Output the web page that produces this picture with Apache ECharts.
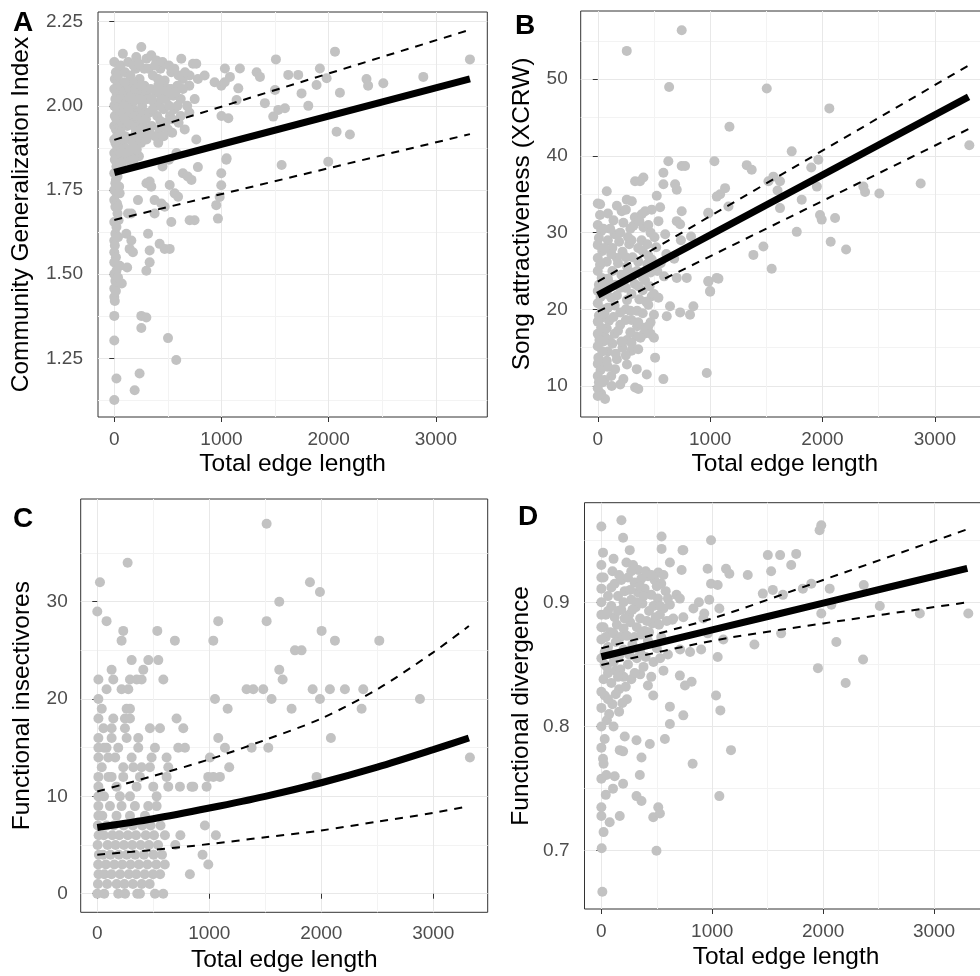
<!DOCTYPE html>
<html><head><meta charset="utf-8">
<script src="https://cdn.jsdelivr.net/npm/echarts@6/dist/echarts.min.js"></script>
<style>html,body{margin:0;padding:0;background:#fff}#c{width:980px;height:976px}</style>
</head><body><div id="c"></div>
<script>
// ---------- shared ticks ----------
const xTicks = [0, 1000, 2000, 3000];
const xMinor = [500, 1500, 2500];
const xTitle = 'Total edge length';

// ---------- Panel A ----------
const aTitle = 'Community Generalization Index';
const aYTicks = [1.25, 1.5, 1.75, 2.0, 2.25];
const aYMinor = [1.125, 1.375, 1.625, 1.875, 2.125];
const aPoints = [
 [0,2.13],[15,2.10],[5,2.08],[30,2.07],[0,2.05],[20,2.04],[10,2.02],[40,2.01],[0,2.00],[25,1.99],[5,1.97],[35,1.96],[0,1.94],[15,1.93],[30,1.92],[0,1.90],[10,1.89],[25,1.88],[0,1.86],[40,1.85],[5,1.84],[20,1.82],[0,1.80],[30,1.79],[10,1.77],[0,1.75],[20,1.74],[45,1.76],[0,1.72],[10,1.70],[30,1.68],[0,1.655],[10,1.62],[0,1.60],[5,1.585],[0,1.565],[15,1.55],[0,1.535],[45,1.525],[0,1.50],[10,1.48],[0,1.457],[30,1.472],[0,1.432],[5,1.42],[0,1.376],[0,1.303],[20,1.19],[0,1.126],
 [50,2.11],[35,2.09],[55,2.06],[45,2.03],[25,2.02],[50,1.99],[20,1.96],[55,1.94],[45,1.91],[20,1.905],[50,1.88],[35,1.87],[55,1.83],[40,1.81],[15,1.78],[50,1.74],[25,1.71],[40,1.66],[20,1.64],[35,1.61],[20,1.51],[35,1.49],[15,1.45],
 [80,2.155],[60,2.12],[100,2.10],[150,2.09],[200,2.11],[205,2.145],[252,2.175],[236,2.08],[120,2.06],[170,2.07],[90,2.04],[140,2.05],[190,2.03],[240,2.04],[280,2.06],[60,2.02],[110,2.01],[160,2.00],[210,2.02],[260,2.00],[80,1.98],[130,1.97],[180,1.99],[230,1.98],[290,1.98],[70,1.95],[120,1.94],[170,1.96],[220,1.95],[270,1.94],[60,1.92],[100,1.91],[150,1.90],[200,1.92],[250,1.89],[90,1.88],[140,1.87],[190,1.86],[60,1.86],[110,1.84],[70,1.82],[160,1.83],[230,1.85],
 [130,2.13],[180,2.12],[230,2.125],[280,2.11],[300,2.14],[95,2.07],[145,2.025],[195,2.05],[250,2.06],[300,2.04],[85,2.00],[135,1.99],[185,2.015],[240,2.02],[205,1.97],[255,1.965],[95,1.96],[145,1.945],[195,1.935],[245,1.93],[295,1.96],[120,1.905],[175,1.89],[225,1.905],[275,1.91],[80,1.90],[130,1.85],[180,1.84],[100,1.86],[210,1.87],
 [345,2.15],[392,2.135],[408,2.08],[470,2.075],[532,2.10],[320,2.11],[360,2.09],[430,2.11],[500,2.05],[340,2.05],[390,2.04],[450,2.06],[310,2.02],[370,2.01],[420,2.00],[480,2.02],[550,2.03],[330,1.98],[400,1.97],[460,1.99],[520,1.97],[350,1.94],[420,1.93],[480,1.95],[300,1.90],[380,1.91],[625,2.14],[640,2.08],[590,2.06],[700,2.06],[734,2.125],[765,2.125],[780,2.08],[703,2.09],[843,2.09],[936,2.07],[998,2.06],[620,2.02],[680,2.00],[750,2.02],[657,1.93],[765,1.90],[600,1.95],[560,1.99],
 [380,2.12],[450,2.13],[510,2.12],[560,2.11],[600,2.09],[410,2.06],[470,2.04],[530,2.05],[570,2.04],[640,2.05],[660,2.10],[350,2.02],[440,2.02],[510,2.00],[590,2.00],[360,1.99],[430,1.955],[500,1.93],[540,1.96],[620,1.97],[330,1.92],[410,1.89],[460,1.91],[540,1.92],[700,1.98],
 [300,1.77],[330,1.775],[345,1.76],[221,1.72],[376,1.72],[439,1.71],[470,1.70],[563,1.74],[595,1.73],[128,1.68],[159,1.68],[34,1.70],[376,1.68],[532,1.655],[703,1.66],[749,1.66],[517,1.765],[640,1.80],[685,1.79],[720,1.78],[780,1.818],[998,1.80],[1045,1.84],[998,1.764],[983,1.729],[951,1.705],[967,1.665],[580,1.86],[510,1.84],[450,1.82],
 [112,1.62],[159,1.60],[315,1.62],[423,1.59],[470,1.575],[517,1.575],[143,1.575],[174,1.565],[330,1.57],[50,1.525],[120,1.52],[330,1.535],[299,1.51],[70,1.472],[252,1.376],[299,1.371],[252,1.34],[501,1.31],[578,1.245],[236,1.205],[190,1.155],
 [1032,2.111],[1079,2.086],[1172,2.111],[1157,2.052],[1141,2.017],[1064,1.963],[1048,1.844],[1328,2.10],[1359,2.086],[1405,2.008],[1508,2.138],[1499,2.047],[1483,1.968],[1530,1.988],[1561,1.824],[1592,1.993],[1623,2.092],[1716,2.092],[1747,2.037],[1810,2.0],[1887,2.062],[1918,2.111],[1981,2.082],[2059,2.161],[2074,1.923],[2105,2.039],[2198,1.915],[2353,2.08],[2368,2.06],[2510,2.067],[2883,2.086],[3318,2.138],[1996,1.834],[1030,2.07],[1000,1.97]
];
const aLineX = [0, 3318];
const aFit = [1.802, 2.080];
const aUpper = [1.899, 2.226];
const aLower = [1.661, 1.916];

// ---------- Panel B ----------
const bTitle = 'Song attractiveness (XCRW)';
const bYTicks = [10, 20, 30, 40, 50];
const bYMinor = [15, 25, 35, 45, 55];
const bPoints = [
 [747,56.4],[258,53.7],[635,49.0],[1504,48.8],[2061,46.2],[1172,43.8],[1726,40.6],[1963,39.5],[3307,41.4],[2874,36.4],[2364,36.0],[2379,35.3],[2506,35.1],[1326,38.8],[1370,38.2],[1038,39.3],[1089,35.0],[1133,35.8],[1059,34.7],[1163,33.4],[1519,36.7],[1563,37.3],[1622,36.7],[1815,34.3],[1622,33.2],[1771,30.1],[1978,32.3],[1993,31.7],[2112,31.9],[2073,28.8],[2210,27.8],[1385,27.1],[1474,28.2],[1548,25.3],[985,23.6],[1000,22.3],[1074,24.0],[970,11.7],[985,32.5],[1900,38.5],[1950,36.0],[1600,35.5],
 [628,39.3],[747,38.7],[777,38.7],[584,37.8],[332,36.7],[376,36.7],[406,37.2],[584,36.3],[688,36.3],[703,35.6],[80,35.4],[21,33.7],[258,34.3],[303,34.1],[525,34.8],[213,32.8],[421,32.8],[391,32.4],[555,33.3],[747,32.8],[984,32.6],[540,31.5],[703,31.5],[733,31.1],[140,31.6],[228,31.3],[317,30.9],[406,30.7],[450,31.0],[150,29.8],[270,29.4],[390,29.0],[505,29.4],[600,29.8],[740,29.0],[830,29.5],[130,28.0],[220,27.5],[310,26.8],[400,27.6],[520,28.1],[610,27.2],[680,26.6],[80,26.2],[170,26.7],[260,25.6],[350,25.0],[440,25.9],[530,25.0],[590,24.3],[703,24.1],[792,24.1],[984,23.7],[1059,24.1],[1000,22.4],[643,20.4],[614,19.1],[733,19.6],[821,19.3],[851,20.4],[350,17.8],[470,18.3],[410,16.8],[500,16.3],[130,15.5],[220,15.0],[300,14.6],[360,14.8],[510,13.7],[154,12.2],[347,12.2],[436,11.5],[584,10.9],[124,10.0],[228,10.9],[332,9.8],[361,9.6],[65,8.3],
 [100,23.5],[200,22.8],[300,22.0],[400,22.5],[480,21.7],[150,20.5],[250,20.0],[350,19.8],[450,20.6],[100,18.5],[200,18.0],[300,18.6],[420,17.6],[60,16.5],[150,16.8],[260,16.0],[340,16.5],[120,21.5],[230,24.5],[330,23.3],[420,23.8],[180,26.0],[280,28.5],[360,28.0],[450,27.0],[500,22.0],[540,21.5],[560,26.0],[170,13.5],[90,12.5],[260,12.8],[200,10.2],
 [90,32.5],[170,33.5],[250,33.0],[330,32.0],[480,33.0],[110,30.5],[200,30.0],[290,30.5],[370,31.5],[470,30.0],[90,29.0],[190,28.8],[300,29.0],[440,28.5],[120,27.2],[250,26.8],[360,26.2],[480,26.5],[130,25.0],[210,24.5],[300,24.8],[400,24.2],[470,24.8],[90,24.0],[160,23.2],[250,22.8],[360,23.0],[460,23.0],[80,22.0],[170,21.8],[260,21.2],[370,21.3],[430,21.0],[90,20.2],[200,19.6],[290,19.8],[400,19.5],[500,19.3],[140,19.0],[250,18.6],[360,18.3],[450,17.8],[80,17.5],[180,17.2],[290,17.0],[380,16.3],[470,16.8],[100,16.0],[210,15.8],[300,15.6],[90,14.5],[160,14.2],[250,14.0],[80,13.3],[120,11.3],[60,10.8],[30,26.0],[45,23.0],[25,18.8],[50,15.8],[45,12.8],
 [0,33.8],[20,32.3],[0,31.0],[30,30.2],[10,29.3],[0,28.4],[40,27.6],[0,26.7],[20,25.8],[0,25.0],[35,24.1],[10,23.2],[0,22.4],[25,21.6],[0,20.8],[40,20.0],[10,19.2],[0,18.4],[30,17.6],[0,16.8],[15,16.0],[0,15.2],[40,14.5],[5,13.7],[0,12.9],[25,12.1],[0,11.3],[10,10.5],[0,9.7],[30,9.0],[0,8.7],[45,10.5],[50,30.5],[60,28.0],[55,22.5],[60,19.5]
];
const bLineX = [0, 3300];
const bFit = [21.86, 47.7];
const bUpper = [23.6, 51.8];
const bLower = [19.7, 43.5];

// ---------- Panel C ----------
const cTitle = 'Functional insectivores';
const cYTicks = [0, 10, 20, 30];
const cYMinor = [5, 15, 25, 35];
const cPoints = [
 [1512,38],[271,34],[24,32],[0,29],[83,28],[1899,32],[1988,31],[1625,30],[1512,28],[1080,28],[2003,27],[2122,26],[2518,26],[1036,26],[693,26],[1765,25],[1824,25],[1625,23],[1655,22],[1923,21],[2077,21],[2211,21],[2375,21],[1333,21],[1393,21],[1482,21],[1556,20],[1988,20],[2881,20],[1051,20],[1735,19],[1164,19],[2360,19],[2086,16],[1080,16],[1140,15],[1378,15],[1527,15],[1178,13],[991,12],[1036,12],[1095,12],[1958,12],[3327,14],[1006,14],[976,11],[842,11],[961,7],[1059,6],[940,4],[991,3],[827,2],
 [232,27],[217,26],[536,27],[307,24],[456,24],[545,24],[128,23],[411,23],[10,22],[143,22],[292,22],[352,22],[396,22],[590,22],[83,21],[217,21],[277,21],[10,20],[262,19],[292,19],[708,18],[10,18],[143,18],[247,18],[292,18],[128,17],[247,17],[470,17],[560,17],[768,17],
 [10,16],[128,16],[262,16],[366,16],[10,15],[83,15],[187,15],[366,15],[515,15],[723,15],[783,15],
 [10,14],[98,14],[307,14],[485,14],[619,14],[232,13],[322,13],[396,13],[470,13],[634,13],
 [10,12],[128,12],[232,12],[381,12],[619,12],[10,11],[172,11],[351,11],[500,11],[634,11],[738,11],[857,11],
 [10,10],[202,10],[292,10],[530,10],[10,9],[113,9],[217,9],[336,9],[455,9],[530,9],[10,8],[172,8],[292,8],[426,8],
 [40,19],[55,17],[40,13],[60,10],[45,8],[100,12],[160,14],[60,15],
 [5,7],[83,7],[148,7],[236,7],[318,7],[402,7],[476,7],[565,7],
 [12,6],[58,6],[134,6],[197,6],[273,6],[346,6],[433,6],[507,6],[604,6],[742,6],
 [3,5],[92,5],[163,5],[238,5],[312,5],[387,5],[461,5],[543,5],[697,5],
 [14,4],[51,4],[118,4],[193,4],[264,4],[338,4],[417,4],[503,4],[578,4],
 [8,3],[77,3],[152,3],[223,3],[297,3],[372,3],[448,3],[527,3],[603,3],
 [11,2],[63,2],[127,2],[204,2],[281,2],[348,2],[423,2],[498,2],[561,2],
 [6,1],[88,1],[173,1],[242,1],[318,1],[397,1],[468,1],
 [0,0],[187,0],[357,0],[381,0],[515,0],[589,0],[62,0],[248,0]
];
const cLineX = [0, 500, 1000, 1500, 2000, 2500, 3000, 3318];
const cFit = [6.8, 7.7, 8.8, 10.0, 11.4, 13.0, 14.8, 16.0];
const cUpper = [10.5, 12.1, 13.8, 15.8, 18.0, 21.0, 24.8, 27.5];
const cLower = [4.0, 4.5, 5.1, 5.8, 6.5, 7.4, 8.3, 9.0];

// ---------- Panel D ----------
const dTitle = 'Functional divergence';
const dYTicks = [0.7, 0.8, 0.9];
const dYMinor = [0.75, 0.85, 0.95];
const dPoints = [
 [1983,0.962],[1968,0.958],[989,0.950],[732,0.942],[1501,0.938],[1612,0.938],[1757,0.939],[1531,0.925],[1712,0.930],[1320,0.922],[1124,0.927],[1154,0.923],[958,0.927],[989,0.915],[1049,0.914],[973,0.902],[1064,0.895],[928,0.891],[1456,0.907],[1546,0.910],[1637,0.906],[1817,0.911],[1893,0.915],[2059,0.911],[2074,0.898],[1983,0.891],[2366,0.914],[2511,0.897],[2872,0.891],[3309,0.891],[1380,0.866],[1621,0.875],[2119,0.868],[2360,0.854],[1953,0.847],[2203,0.835],[1049,0.856],[1034,0.825],[1073,0.813],[1169,0.781],[823,0.770],[1064,0.744],[497,0.700],[9,0.667],[3,0.702],
 [0,0.961],[181,0.966],[196,0.952],[256,0.942],[15,0.940],[543,0.953],[543,0.943],[739,0.942],[110,0.935],[226,0.932],[286,0.930],[332,0.926],[0,0.930],[0,0.920],[0,0.911],[618,0.932],[724,0.926],[513,0.924],
 [60,0.905],[120,0.915],[180,0.918],[240,0.920],[300,0.916],[360,0.919],[420,0.921],[480,0.918],[540,0.915],[90,0.897],[150,0.905],[210,0.909],[270,0.902],[330,0.908],[390,0.911],[450,0.906],[510,0.903],[580,0.909],[40,0.890],[120,0.888],[180,0.894],[250,0.890],[310,0.896],[370,0.899],[430,0.893],[490,0.888],[560,0.895],[20,0.880],[80,0.876],[140,0.882],[200,0.879],[260,0.884],[320,0.880],[390,0.877],[460,0.883],[640,0.886],[678,0.906],[708,0.903],[618,0.898],[739,0.888],[648,0.887],[528,0.890],[920,0.887],[880,0.900],[830,0.895],
 [100,0.925],[160,0.922],[270,0.925],[350,0.913],[400,0.925],[450,0.922],[500,0.913],[560,0.922],[90,0.912],[200,0.900],[260,0.910],[320,0.900],[380,0.905],[470,0.897],[530,0.897],[600,0.903],[60,0.893],[150,0.893],[210,0.887],[280,0.894],[350,0.887],[410,0.885],[520,0.882],[590,0.885],[40,0.872],[110,0.875],[170,0.872],[230,0.873],[300,0.872],[360,0.874],[430,0.876],[540,0.872],[30,0.860],[90,0.858],[160,0.857],[250,0.858],[320,0.855],[400,0.856],[470,0.852],[530,0.855],[60,0.843],[130,0.845],[200,0.840],[270,0.838],[350,0.842],[420,0.833],[30,0.825],[100,0.818],[160,0.830],[230,0.822],[50,0.805],[110,0.800],[20,0.770],[40,0.745],[20,0.715],
 [0,0.870],[60,0.864],[130,0.868],[200,0.862],[280,0.866],[350,0.860],[420,0.869],[500,0.863],[600,0.858],[710,0.862],[800,0.860],[900,0.862],[960,0.875],[1100,0.870],[0,0.855],[50,0.848],[110,0.852],[170,0.846],[240,0.850],[300,0.843],[380,0.848],[450,0.840],[560,0.845],[20,0.838],[90,0.835],[150,0.840],[220,0.832],[708,0.841],[754,0.833],[814,0.836],[0,0.828],[60,0.822],[130,0.826],[190,0.819],[468,0.825],[0,0.815],[70,0.810],[160,0.812],[618,0.816],[739,0.809],[618,0.802],[573,0.790],[211,0.792],[317,0.789],[437,0.786],[0,0.783],[15,0.774],[166,0.781],[196,0.780],[362,0.775],[347,0.761],[0,0.758],[45,0.761],[120,0.760],[196,0.754],[105,0.750],[317,0.744],[362,0.740],[0,0.735],[0,0.728],[75,0.723],[166,0.728],[468,0.727],[513,0.735],[528,0.730],[0,0.800],[30,0.790],[0,0.890],[0,0.880],[0,0.900],[20,0.920],[30,0.850]
];
const dLineX = [0, 1000, 2000, 3300];
const dFit = [0.8562, 0.8778, 0.8994, 0.9274];
const dUpper = [0.863, 0.887, 0.918, 0.9588];
const dLower = [0.8495, 0.869, 0.883, 0.900];

// ---------- build ----------
const FONT = 'Liberation Sans, Arial, Helvetica, sans-serif';
const panels = [
  {grid:{left:98, top:12, width:389.3, height:405}, xr:[-152,3480], yr:[1.0756,2.2788], yt:aYTicks, ym:aYMinor, fmt:v=>v.toFixed(2), title:aTitle, yGap:64, yMargin:15, xGap:35, xMargin:13,
   pts:aPoints, lx:aLineX, fit:aFit, up:aUpper, lo:aLower, smooth:false},
  {grid:{left:580.7, top:11, width:408.3, height:406}, xr:[-152,3482], yr:[5.96,58.9], yt:bYTicks, ym:bYMinor, fmt:v=>String(v), title:bTitle, yGap:46, yMargin:13, xGap:35, xMargin:13,
   pts:bPoints, lx:bLineX, fit:bFit, up:bUpper, lo:bLower, smooth:false},
  {grid:{left:80.7, top:499, width:407, height:413.3}, xr:[-148,3486], yr:[-1.91,40.55], yt:cYTicks, ym:cYMinor, fmt:v=>String(v), title:cTitle, yGap:46, yMargin:13, xGap:35, xMargin:12,
   pts:cPoints, lx:cLineX, fit:cFit, up:cUpper, lo:cLower, smooth:0.3},
  {grid:{left:584.5, top:502.7, width:403, height:406.3}, xr:[-152,3482], yr:[0.6531,0.9802], yt:dYTicks, ym:dYMinor, fmt:v=>v.toFixed(1), title:dTitle, yGap:51, yMargin:15, xGap:36, xMargin:13,
   pts:dPoints, lx:dLineX, fit:dFit, up:dUpper, lo:dLower, smooth:0.3}
];

const grids = [], xAxes = [], yAxes = [], series = [];
const MAJOR = '#e8e8e8', MINOR = '#f3f3f3';
panels.forEach((p, i) => {
  grids.push(Object.assign({show:true, borderColor:'#333333', borderWidth:1, backgroundColor:'transparent', containLabel:false, outerBoundsMode:'none'}, p.grid));
  xAxes.push({type:'value', gridIndex:i, min:p.xr[0], max:p.xr[1], position:'bottom',
    axisLine:{show:false}, axisTick:{show:true, length:5, lineStyle:{color:'#333333'}, customValues:xTicks},
    axisLabel:{customValues:xTicks, formatter:v=>String(v), color:'#4d4d4d', fontSize:19, fontFamily:FONT, margin:p.xMargin},
    splitLine:{show:true, lineStyle:{color:MAJOR, width:1}},
    name:xTitle, nameLocation:'middle', nameGap:p.xGap, nameTextStyle:{fontSize:24.5, color:'#000', fontFamily:FONT}});
  xAxes.push({type:'value', gridIndex:i, min:p.xr[0], max:p.xr[1], position:'bottom',
    axisLine:{show:false}, axisTick:{show:false, customValues:xMinor}, axisLabel:{show:false, customValues:xMinor},
    splitLine:{show:true, lineStyle:{color:MINOR, width:1}}});
  yAxes.push({type:'value', gridIndex:i, min:p.yr[0], max:p.yr[1], position:'left',
    axisLine:{show:false}, axisTick:{show:true, length:5, lineStyle:{color:'#333333'}, customValues:p.yt},
    axisLabel:{customValues:p.yt, formatter:p.fmt, color:'#4d4d4d', fontSize:19, fontFamily:FONT, margin:p.yMargin},
    splitLine:{show:true, lineStyle:{color:MAJOR, width:1}},
    name:p.title, nameLocation:'middle', nameGap:p.yGap, nameTextStyle:{fontSize:24.5, color:'#000', fontFamily:FONT}});
  yAxes.push({type:'value', gridIndex:i, min:p.yr[0], max:p.yr[1], position:'left',
    axisLine:{show:false}, axisTick:{show:false, customValues:p.ym}, axisLabel:{show:false, customValues:p.ym},
    splitLine:{show:true, lineStyle:{color:MINOR, width:1}}});
  const xi = 2*i, yi = 2*i;
  series.push({type:'scatter', xAxisIndex:xi, yAxisIndex:yi, data:p.pts, symbolSize:10,
    itemStyle:{color:'#c2c2c2', opacity:1}, silent:true, z:3});
  const mk = (ys) => p.lx.map((x, k) => [x, ys[k]]);
  series.push({type:'line', xAxisIndex:xi, yAxisIndex:yi, data:mk(p.fit), symbol:'none', smooth:p.smooth,
    lineStyle:{color:'#000', width:7, cap:'butt'}, silent:true, z:5});
  series.push({type:'line', xAxisIndex:xi, yAxisIndex:yi, data:mk(p.up), symbol:'none', smooth:p.smooth,
    lineStyle:{color:'#000', width:2, type:[8,7]}, silent:true, z:5});
  series.push({type:'line', xAxisIndex:xi, yAxisIndex:yi, data:mk(p.lo), symbol:'none', smooth:p.smooth,
    lineStyle:{color:'#000', width:2, type:[8,7]}, silent:true, z:5});
});

const letters = [['A',13,23],['B',515,26],['C',13,519],['D',518,517]];
const chart = echarts.init(document.getElementById('c'), null, {renderer:'canvas'});
chart.setOption({
  animation:false,
  backgroundColor:'#ffffff',
  textStyle:{fontFamily:FONT},
  grid:grids, xAxis:xAxes, yAxis:yAxes, series:series,
  graphic:letters.map(l => ({type:'text', x:l[1], y:l[2], z:10,
    style:{text:l[0], x:0, y:0, font:'bold 28px ' + FONT, fill:'#000', textAlign:'left', textVerticalAlign:'middle', align:'left', verticalAlign:'middle'}}))
});
</script></body></html>
